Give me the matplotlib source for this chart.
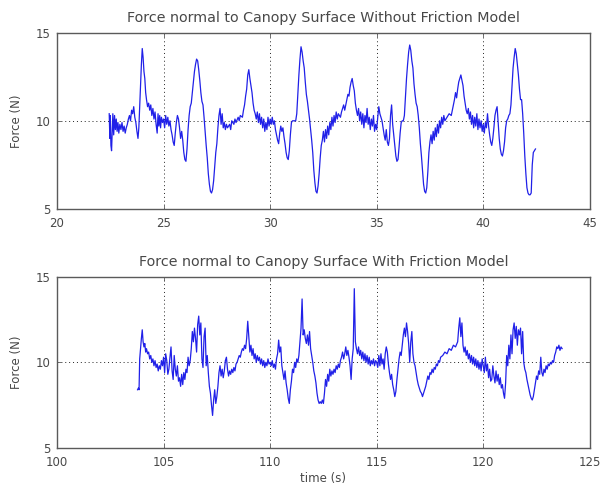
import matplotlib
matplotlib.use("Agg")
import matplotlib.pyplot as plt

# ---------------- data ----------------
titles = ["Force normal to Canopy Surface Without Friction Model",
          "Force normal to Canopy Surface With Friction Model"]
ylabel_text = "Force (N)"
xlabel_text = "time (s)"

xticks_top = [20, 25, 30, 35, 40, 45]
xticks_bottom = [100, 105, 110, 115, 120, 125]
yticks = [5, 10, 15]

t_top = [
    22.45, 22.48, 22.50, 22.53, 22.56, 22.59, 22.62, 22.66, 22.70, 22.74, 22.78, 22.82, 22.86, 22.90, 22.95,
    23.00, 23.05, 23.10, 23.15, 23.20, 23.25, 23.30, 23.35, 23.40, 23.45, 23.50, 23.55, 23.60, 23.65, 23.70,
    23.75, 23.80, 23.84, 23.88, 23.92, 23.96, 24.00, 24.04, 24.08, 24.12, 24.16, 24.20, 24.25, 24.30, 24.35,
    24.40, 24.45, 24.50, 24.55, 24.60, 24.65, 24.70, 24.74, 24.78, 24.82, 24.86, 24.90, 24.95, 25.00,
    25.05, 25.10, 25.15, 25.20, 25.25, 25.30, 25.35, 25.40, 25.45, 25.50, 25.55, 25.60, 25.65, 25.70, 25.75,
    25.80, 25.85, 25.90, 25.95, 26.00, 26.05, 26.10, 26.15, 26.20, 26.25, 26.30, 26.35, 26.40, 26.45, 26.50,
    26.55, 26.60, 26.65, 26.70, 26.75, 26.80, 26.85, 26.90, 26.95, 27.00, 27.05, 27.10, 27.15, 27.20, 27.25,
    27.30, 27.35, 27.40, 27.45, 27.50, 27.55, 27.60, 27.65, 27.70,
    27.75, 27.80, 27.85, 27.90, 27.95, 28.00, 28.10, 28.15, 28.20, 28.30, 28.35, 28.40, 28.50, 28.55, 28.60,
    28.70, 28.75, 28.80, 28.85, 28.90, 28.95, 29.00, 29.05, 29.10, 29.15, 29.20, 29.25, 29.30, 29.35, 29.40,
    29.45, 29.50, 29.55, 29.60, 29.65, 29.70, 29.75, 29.80, 29.85, 29.90, 29.95, 30.00, 30.05, 30.10, 30.15,
    30.20, 30.25, 30.30, 30.35, 30.40, 30.45, 30.50, 30.55, 30.60, 30.65, 30.70, 30.75, 30.80, 30.85, 30.90,
    30.95, 31.00, 31.05, 31.10, 31.15, 31.20, 31.25, 31.30, 31.35, 31.40, 31.45, 31.50, 31.55, 31.60, 31.65,
    31.70, 31.75, 31.80, 31.85, 31.90, 31.95, 32.00, 32.05, 32.10, 32.15, 32.20, 32.25, 32.30, 32.35, 32.40,
    32.45, 32.50, 32.55, 32.60, 32.65, 32.70, 32.75, 32.80, 32.85, 32.90, 32.95, 33.00, 33.05, 33.10, 33.15,
    33.20, 33.30, 33.35, 33.40, 33.45, 33.50, 33.55, 33.60, 33.65, 33.70, 33.75, 33.80, 33.85, 33.90, 33.95,
    34.00, 34.05, 34.10, 34.15, 34.20, 34.25, 34.30, 34.35, 34.40, 34.45, 34.50, 34.55, 34.60, 34.65, 34.70,
    34.75, 34.80, 34.85, 34.90, 34.95, 35.00, 35.05, 35.10, 35.15, 35.20, 35.25, 35.30, 35.35, 35.40, 35.45,
    35.50, 35.55, 35.60, 35.65, 35.70, 35.75, 35.80, 35.85, 35.90, 35.95, 36.00, 36.05, 36.10, 36.15, 36.20,
    36.25, 36.30, 36.35, 36.40, 36.45, 36.50, 36.55, 36.60, 36.65, 36.70, 36.75, 36.80, 36.85, 36.90, 36.95,
    37.00, 37.05, 37.10, 37.15, 37.20, 37.25, 37.30, 37.35, 37.40, 37.45, 37.50, 37.55, 37.60, 37.65, 37.70,
    37.75, 37.80, 37.85, 37.90, 37.95, 38.00, 38.05, 38.10, 38.15, 38.20, 38.30, 38.40, 38.50, 38.55, 38.60,
    38.65, 38.70, 38.75, 38.80, 38.85, 38.90, 38.95, 39.00, 39.05, 39.10, 39.15, 39.20, 39.25, 39.30, 39.35,
    39.40, 39.45, 39.50, 39.55, 39.60, 39.65, 39.70, 39.75, 39.80, 39.85, 39.90, 39.95, 40.00, 40.05, 40.10,
    40.15, 40.20, 40.25, 40.30, 40.35, 40.40, 40.45, 40.50, 40.55, 40.60, 40.65, 40.70, 40.75, 40.80, 40.85,
    40.90, 40.95, 41.00, 41.05, 41.10, 41.15, 41.20, 41.25, 41.30, 41.35, 41.40, 41.45, 41.50, 41.55, 41.60,
    41.65, 41.70, 41.75, 41.80, 41.85, 41.90, 41.95, 42.00, 42.05, 42.10, 42.15, 42.20, 42.25, 42.30, 42.35,
    42.40, 42.45,
]
f_top = [
    10.4, 9.0, 10.3, 8.6, 8.3, 9.4, 10.4, 9.2, 10.3, 9.5, 10.1, 9.4, 9.9, 9.3, 9.8,
    9.5, 9.9, 9.4, 9.7, 9.3, 9.6, 9.8, 10.1, 10.3, 10.0, 10.6, 10.4, 10.8, 10.2, 9.9,
    9.4, 9.0, 9.6, 10.8, 12.0, 13.2, 14.1, 13.6, 12.8, 12.4, 11.6, 11.2, 10.8, 11.0, 10.6,
    10.9, 10.3, 10.7, 10.1, 10.5, 9.8, 9.3, 10.4, 9.7, 10.3, 9.6, 10.2, 9.9, 10.1,
    9.6, 10.3, 9.8, 10.2, 9.7, 10.0, 9.5, 9.2, 8.8, 8.6, 9.3, 9.9, 10.3, 10.1, 9.6,
    9.0, 9.4, 8.9, 8.2, 7.8, 7.7, 8.4, 9.5, 10.3, 10.8, 11.0, 11.6, 12.2, 12.8, 13.2,
    13.5, 13.4, 12.9, 12.3, 11.6, 11.1, 10.9, 10.2, 9.4, 8.6, 7.9, 7.0, 6.4, 6.0, 5.9,
    6.1, 6.6, 7.4, 8.2, 8.7, 9.6, 10.3, 10.7, 9.8,
    10.4, 9.6, 9.9, 9.5, 9.8, 9.6, 9.8, 9.5, 10.0, 9.8, 10.1, 9.9, 10.2, 10.0, 10.3,
    10.2, 10.6, 10.9, 11.4, 11.8, 12.6, 12.9, 12.4, 12.0, 11.6, 11.0, 10.6, 10.4, 10.1, 10.5,
    9.9, 10.4, 9.8, 10.2, 9.6, 10.1, 9.4, 9.9, 9.5, 10.2, 9.7, 10.1, 9.8, 10.2, 9.8,
    10.0, 9.5, 9.2, 8.9, 8.7, 9.3, 9.7, 9.4, 9.6, 9.1, 8.7, 8.2, 7.9, 7.8, 8.3,
    9.2, 9.9, 10.0, 10.0, 10.0, 10.0, 10.4, 11.5, 12.6, 13.5, 14.2, 13.9, 13.4, 13.0, 12.2,
    11.5, 11.1, 10.6, 10.1, 9.5, 8.9, 8.2, 7.2, 6.5, 6.0, 5.9, 6.3, 7.0, 7.9, 8.6,
    8.9, 9.4, 8.8, 9.5, 9.0, 9.7, 9.2, 9.9, 9.5, 10.2, 9.7, 10.3, 9.9, 10.5, 10.1,
    10.4, 10.2, 10.5, 10.7, 10.9, 10.6, 10.9, 11.2, 11.5, 11.4, 11.9, 12.2, 12.4, 12.0, 11.7,
    11.0, 10.6, 10.3, 10.7, 10.0, 10.5, 9.8, 10.4, 9.6, 10.3, 9.9, 10.7, 9.8, 10.2, 9.5,
    10.1, 9.7, 10.3, 9.4, 9.8, 9.5, 10.2, 10.8, 10.4, 10.2, 10.0, 9.6, 9.2, 8.9, 9.5,
    8.8, 8.6, 9.0, 10.3, 10.9, 9.8, 9.2, 8.6, 8.0, 7.7, 7.8, 8.5, 9.3, 9.9, 10.0,
    10.0, 10.3, 11.4, 12.4, 13.2, 13.9, 14.3, 14.0, 13.4, 13.0, 12.1, 11.5, 11.0, 10.8, 10.3,
    9.6, 8.7, 8.0, 7.2, 6.4, 6.0, 5.9, 6.2, 7.1, 8.2, 8.8, 9.2, 8.7, 9.4, 8.9,
    9.6, 9.1, 9.8, 9.3, 10.0, 9.6, 10.2, 9.8, 10.3, 10.0, 10.2, 10.4, 10.3, 10.6, 10.9,
    11.2, 11.6, 11.3, 11.8, 12.2, 12.4, 12.6, 12.3, 12.0, 11.4, 11.0, 10.6, 10.4, 10.7, 10.1,
    10.5, 9.8, 10.3, 9.6, 10.2, 9.7, 10.4, 9.5, 10.1, 9.6, 10.0, 9.4, 9.8, 9.3, 9.9,
    9.6, 10.4, 9.7, 9.2, 8.8, 8.6, 9.0, 9.6, 10.3, 10.6, 10.8, 9.9, 9.0, 8.4, 8.1,
    8.0, 8.3, 8.8, 9.6, 10.0, 10.1, 10.3, 10.4, 10.9, 12.0, 13.0, 13.6, 14.1, 13.8, 13.2,
    12.6, 11.8, 11.2, 11.2, 10.4, 9.3, 8.0, 7.0, 6.2, 5.9, 5.8, 5.8, 5.9, 7.5, 8.2,
    8.3, 8.4,
]

t_bottom = [
    103.78, 103.82, 103.85, 103.88, 103.92, 103.96, 104.00, 104.04, 104.08, 104.12, 104.16, 104.20, 104.25, 104.30, 104.35,
    104.40, 104.45, 104.50, 104.55, 104.60, 104.65, 104.70, 104.75, 104.80, 104.85, 104.90, 104.95, 105.00, 105.05, 105.10,
    105.15, 105.20, 105.25, 105.30, 105.35, 105.40, 105.45, 105.50, 105.55, 105.60, 105.65, 105.70, 105.75, 105.80, 105.85,
    105.90, 105.95, 106.00, 106.05, 106.10, 106.15, 106.20, 106.25, 106.30, 106.35, 106.40, 106.45, 106.50, 106.55, 106.60,
    106.65, 106.70, 106.75, 106.80, 106.85, 106.90, 106.95, 107.00, 107.05, 107.10, 107.15, 107.20, 107.25, 107.30, 107.35,
    107.40, 107.45, 107.50, 107.55, 107.60, 107.65, 107.70, 107.75, 107.80, 107.85, 107.90, 107.95, 108.00, 108.05, 108.10,
    108.15, 108.20, 108.25, 108.30, 108.35, 108.40, 108.45, 108.50, 108.55, 108.60, 108.65, 108.70, 108.75, 108.80, 108.85,
    108.90, 108.95, 109.00, 109.05, 109.10, 109.15, 109.20, 109.25, 109.30, 109.35, 109.40, 109.45, 109.50, 109.55, 109.60,
    109.65, 109.70, 109.75, 109.80, 109.85, 109.90, 109.95, 110.00, 110.05, 110.10, 110.15, 110.20, 110.25, 110.30, 110.35,
    110.40, 110.45, 110.50, 110.55, 110.60, 110.65, 110.70, 110.75, 110.80, 110.85, 110.90, 110.95, 111.00, 111.05, 111.10,
    111.15, 111.20, 111.25, 111.30, 111.35, 111.40, 111.45, 111.50, 111.55, 111.60, 111.65, 111.70, 111.75, 111.80, 111.85,
    111.90, 111.95, 112.00, 112.05, 112.10, 112.15, 112.20, 112.25, 112.30, 112.35, 112.40, 112.45, 112.50, 112.55, 112.60,
    112.65, 112.70, 112.75, 112.80, 112.85, 112.90, 112.95, 113.00, 113.05, 113.10, 113.15, 113.20, 113.25, 113.30, 113.35,
    113.40, 113.45, 113.50, 113.55, 113.60, 113.65, 113.70, 113.75, 113.80, 113.85, 113.90, 113.95, 114.00, 114.05, 114.10,
    114.15, 114.20, 114.25, 114.30, 114.35, 114.40, 114.45, 114.50, 114.55, 114.60, 114.65, 114.70, 114.75, 114.80, 114.85,
    114.90, 114.95, 115.00, 115.05, 115.10, 115.15, 115.20, 115.25, 115.30, 115.35, 115.40, 115.45, 115.50, 115.55, 115.60,
    115.65, 115.70, 115.75, 115.80, 115.85, 115.90, 115.95, 116.00, 116.05, 116.10, 116.15, 116.20, 116.25, 116.30, 116.35,
    116.40, 116.45, 116.50, 116.55, 116.60, 116.65, 116.70, 116.75, 116.80, 116.85, 116.90, 116.95, 117.00, 117.05, 117.10,
    117.15, 117.20, 117.25, 117.30, 117.35, 117.40, 117.45, 117.50, 117.55, 117.60, 117.65, 117.70, 117.75, 117.80, 117.85,
    117.90, 117.95, 118.00, 118.10, 118.20, 118.30, 118.40, 118.50, 118.60, 118.70, 118.80, 118.85, 118.90, 118.95, 119.00,
    119.05, 119.10, 119.15, 119.20, 119.25, 119.30, 119.35, 119.40, 119.45, 119.50, 119.55, 119.60, 119.65, 119.70, 119.75,
    119.80, 119.85, 119.90, 119.95, 120.00, 120.05, 120.10, 120.15, 120.20, 120.25, 120.30, 120.35, 120.40, 120.45, 120.50,
    120.55, 120.60, 120.65, 120.70, 120.75, 120.80, 120.85, 120.90, 120.95, 121.00, 121.05, 121.10, 121.15, 121.20, 121.25,
    121.30, 121.35, 121.40, 121.45, 121.50, 121.55, 121.60, 121.65, 121.70, 121.75, 121.80, 121.85, 121.90, 121.95, 122.00,
    122.05, 122.10, 122.15, 122.20, 122.25, 122.30, 122.35, 122.40, 122.45, 122.50, 122.55, 122.60, 122.65, 122.70, 122.75,
    122.80, 122.85, 122.90, 122.95, 123.00, 123.05, 123.10, 123.15, 123.20, 123.25, 123.30, 123.35, 123.40, 123.45, 123.50,
    123.55, 123.60, 123.65, 123.70,
]
f_bottom = [
    8.4, 8.5, 8.4, 10.2, 10.8, 11.4, 11.9, 11.2, 10.9, 11.1, 10.6, 10.8, 10.5, 10.6, 10.2,
    10.4, 10.0, 10.2, 9.8, 10.1, 9.7, 9.9, 9.5, 9.8, 9.6, 10.1, 9.8, 10.3, 9.4, 10.5,
    10.1, 9.3, 9.6, 10.3, 10.9, 9.5, 9.0, 10.4, 9.6, 9.2, 9.8, 8.9, 9.1, 8.6, 9.3,
    8.7, 9.4, 9.0, 9.6, 9.4, 10.3, 9.8, 10.1, 10.8, 11.8, 11.2, 12.0, 11.4, 10.6, 12.2,
    12.7, 11.6, 12.3, 10.2, 9.7, 11.5, 12.0, 9.8, 10.4, 9.4, 8.6, 8.2, 7.5, 6.9, 7.8,
    8.4, 7.6, 8.0, 8.6, 9.4, 9.8, 9.2, 9.6, 9.1, 9.5, 10.1, 10.3, 9.6, 9.2, 9.5,
    9.3, 9.6, 9.4, 9.7, 9.5, 9.9, 10.0, 10.2, 10.4, 10.3, 10.6, 10.8, 10.7, 11.0, 10.8,
    11.4, 12.4, 11.5, 10.6, 11.0, 10.4, 10.8, 10.2, 10.5, 10.0, 10.4, 10.1, 10.3, 9.9, 10.2,
    9.8, 10.1, 9.7, 10.0, 9.8, 10.2, 9.9, 10.0, 9.8, 10.1, 9.7, 9.9, 9.6, 10.2, 10.5,
    11.3, 10.6, 10.9, 9.8, 9.4, 9.0, 9.5, 8.8, 8.4, 7.9, 7.6, 8.4, 8.9, 9.6, 9.4,
    10.0, 9.7, 10.2, 10.0, 10.4, 11.2, 12.0, 13.7, 11.6, 11.9, 11.4, 11.1, 11.6, 11.0, 11.8,
    10.8, 10.4, 10.0, 9.5, 9.2, 8.8, 8.2, 7.8, 7.6, 7.7, 7.6, 7.8, 7.6, 8.2, 9.0,
    8.6, 9.3, 8.9, 9.6, 9.2, 9.5, 9.3, 9.6, 9.4, 9.8, 9.6, 9.9, 9.7, 10.1, 10.3,
    10.6, 10.2, 10.5, 10.9, 10.4, 10.7, 10.3, 9.8, 9.0, 10.2, 10.8, 14.3, 11.2, 10.8, 10.5,
    10.9, 10.4, 10.7, 10.2, 10.6, 10.1, 10.5, 10.0, 10.4, 9.9, 10.3, 9.8, 10.1, 9.9, 10.2,
    9.8, 10.1, 10.0, 9.7, 10.4, 9.8, 10.5, 9.9, 10.2, 9.6, 10.5, 10.9, 10.6, 9.9, 9.4,
    9.0, 9.3, 8.7, 8.4, 8.0, 8.3, 9.0, 9.6, 10.2, 10.6, 10.4, 11.0, 11.6, 12.0, 11.5,
    12.3, 11.8, 11.1, 10.0, 11.2, 11.8, 10.5, 10.0, 9.8, 9.4, 9.0, 8.7, 8.5, 8.3, 8.2,
    8.0, 8.2, 8.4, 8.6, 8.9, 9.2, 9.0, 9.4, 9.3, 9.6, 9.4, 9.7, 9.6, 9.9, 9.8,
    10.1, 10.0, 10.3, 10.4, 10.6, 10.5, 10.8, 10.7, 11.0, 10.9, 11.2, 12.0, 12.6, 11.5, 12.3,
    11.0, 10.6, 10.9, 10.4, 10.7, 10.2, 10.5, 10.0, 10.4, 9.9, 10.3, 9.8, 10.2, 9.7, 10.1,
    9.6, 10.0, 9.5, 10.2, 9.8, 9.4, 10.3, 9.5, 9.9, 9.1, 9.6, 8.9, 9.0, 9.8, 9.2,
    8.8, 9.5, 8.9, 9.3, 8.7, 9.1, 8.5, 8.7, 8.2, 7.9, 8.8, 10.4, 9.8, 11.0, 10.2,
    11.6, 10.5, 11.9, 12.3, 11.4, 12.1, 11.0, 11.9, 11.6, 12.0, 10.5, 11.8, 10.0, 9.6, 9.4,
    9.0, 8.7, 8.4, 8.1, 7.9, 7.8, 8.0, 8.4, 8.8, 9.2, 9.0, 9.5, 9.3, 10.3, 9.4,
    9.2, 9.6, 9.4, 9.8, 9.6, 9.9, 9.8, 10.0, 9.9, 10.1, 10.0, 10.4, 10.6, 10.9, 10.8,
    11.0, 10.7, 10.9, 10.8,
]

# ---------------- style ----------------
plt.rcParams['font.family'] = ['DejaVu Sans']
text_color = '#484848'
line_color = '#2020e8'
frame_color = '#5a5a5a'

fig = plt.figure(figsize=(6.0, 4.95), dpi=100)
ax1 = fig.add_axes([0.095, 0.578, 0.888, 0.356])
ax2 = fig.add_axes([0.095, 0.095, 0.888, 0.346])

panels = [
    (ax1, t_top, f_top, xticks_top, titles[0], False),
    (ax2, t_bottom, f_bottom, xticks_bottom, titles[1], True),
]

for ax, t, f, xt, title, show_xlabel in panels:
    ax.plot(t, f, color=line_color, lw=0.9)
    ax.set_xlim(xt[0], xt[-1])
    ax.set_ylim(yticks[0], yticks[-1])
    ax.set_xticks(xt)
    ax.set_yticks(yticks)
    ax.grid(True, color='#222222', linestyle=(0, (1, 3)), linewidth=0.7)
    ax.tick_params(direction='in', length=3, width=0.6, colors=frame_color,
                   labelcolor=text_color, labelsize=8.5, top=True, right=True)
    ax.tick_params(axis='x', pad=6)
    ax.tick_params(axis='y', pad=5)
    for sp in ax.spines.values():
        sp.set_color(frame_color)
        sp.set_linewidth(1.0)
    ax.set_title(title, fontsize=10.3, color=text_color, pad=8)
    ax.set_ylabel(ylabel_text, fontsize=8.5, color=text_color, labelpad=9)
    if show_xlabel:
        ax.set_xlabel(xlabel_text, fontsize=8.5, color=text_color, labelpad=2)

fig.savefig('out.png', dpi=100)
